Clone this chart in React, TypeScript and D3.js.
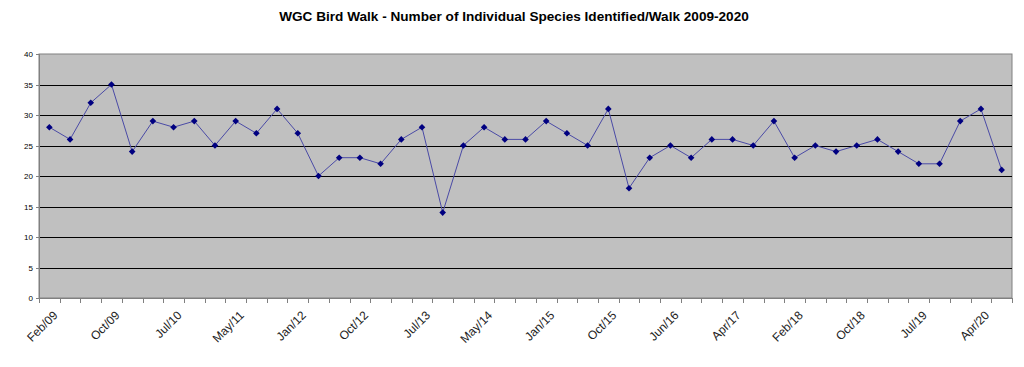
import * as d3 from "d3"
import React, { useEffect, useRef } from "react"

// walk dates (only every third one is labelled on the axis)
const walks = [
  "Feb/09", "May/09", "Jul/09", "Oct/09", "Jan/10", "Apr/10", "Jul/10", "Oct/10",
  "Jan/11", "May/11", "Aug/11", "Oct/11", "Jan/12", "Apr/12", "Jul/12", "Oct/12",
  "Jan/13", "Apr/13", "Jul/13", "Oct/13", "Jan/14", "May/14", "Jul/14", "Oct/14",
  "Jan/15", "Apr/15", "Jul/15", "Oct/15", "Jan/16", "Mar/16", "Jun/16", "Sep/16",
  "Dec/16", "Apr/17", "Jul/17", "Oct/17", "Feb/18", "May/18", "Jul/18", "Oct/18",
  "Jan/19", "Apr/19", "Jul/19", "Oct/19", "Jan/20", "Apr/20", "Jul/20",
]

const species = [
  28, 26, 32, 35, 24, 29, 28, 29, 25, 29, 27, 31, 27, 20, 23, 23,
  22, 26, 28, 14, 25, 28, 26, 26, 29, 27, 25, 31, 18, 23, 25, 23,
  26, 26, 25, 29, 23, 25, 24, 25, 26, 24, 22, 22, 29, 31, 21,
]

const yTicks = [0, 5, 10, 15, 20, 25, 30, 35, 40]

const title = "WGC Bird Walk - Number of Individual Species Identified/Walk 2009-2020"

export default function App() {
  const ref = useRef<SVGSVGElement>(null)

  useEffect(() => {
    const width = 1024
    const height = 367
    const margin = { top: 54, right: 12, bottom: 69, left: 39 }

    const svg = d3.select(ref.current)
    svg.selectAll("*").remove()
    svg.attr("width", width).attr("height", height)

    const font = "Liberation Sans, Arial, sans-serif"

    const xScale = d3.scaleBand<string>()
      .domain(walks)
      .range([margin.left, width - margin.right])
      .padding(0)

    const yScale = d3.scaleLinear()
      .domain([0, 40])
      .range([height - margin.bottom, margin.top])

    const x0 = margin.left
    const x1 = width - margin.right
    const yb = height - margin.bottom
    const cx = (d: string) => (xScale(d) as number) + xScale.bandwidth() / 2

    // title
    svg.append("text")
      .attr("x", 514)
      .attr("y", 21)
      .attr("text-anchor", "middle")
      .style("font-family", font)
      .style("font-size", "13.6px")
      .style("font-weight", "bold")
      .attr("fill", "#000")
      .text(title)

    // plot area
    svg.append("rect")
      .attr("x", x0)
      .attr("y", margin.top)
      .attr("width", x1 - x0)
      .attr("height", yb - margin.top)
      .attr("fill", "#c0c0c0")
      .attr("stroke", "#808080")
      .attr("stroke-width", 1)

    // gridlines
    svg.append("g")
      .selectAll("line")
      .data(yTicks.filter(t => t > 0 && t < 40))
      .join("line")
        .attr("x1", x0)
        .attr("x2", x1)
        .attr("y1", d => Math.round(yScale(d)) + 0.5)
        .attr("y2", d => Math.round(yScale(d)) + 0.5)
        .attr("stroke", "#000")
        .attr("stroke-width", 1)

    // y axis
    svg.append("line")
      .attr("x1", x0 + 0.5).attr("x2", x0 + 0.5)
      .attr("y1", margin.top).attr("y2", yb + 0.5)
      .attr("stroke", "#808080")

    const yAxis = svg.append("g")
    yAxis.selectAll("line")
      .data(yTicks)
      .join("line")
        .attr("x1", x0 - 3)
        .attr("x2", x0)
        .attr("y1", d => Math.round(yScale(d)) + 0.5)
        .attr("y2", d => Math.round(yScale(d)) + 0.5)
        .attr("stroke", "#808080")
    yAxis.selectAll("text")
      .data(yTicks)
      .join("text")
        .attr("x", x0 - 6)
        .attr("y", d => yScale(d) + 3)
        .attr("text-anchor", "end")
        .style("font-family", font)
        .style("font-size", "8px")
        .attr("fill", "#000")
        .text(d => d)

    // x axis
    svg.append("line")
      .attr("x1", x0).attr("x2", x1)
      .attr("y1", yb + 0.5).attr("y2", yb + 0.5)
      .attr("stroke", "#808080")

    const bounds = walks.map(d => xScale(d) as number).concat([x1])
    svg.append("g")
      .selectAll("line")
      .data(bounds)
      .join("line")
        .attr("x1", d => Math.round(d) + 0.5)
        .attr("x2", d => Math.round(d) + 0.5)
        .attr("y1", yb)
        .attr("y2", yb + 5)
        .attr("stroke", "#808080")

    svg.append("g")
      .selectAll("text")
      .data(walks.filter((d, i) => i % 3 === 0))
      .join("text")
        .attr("transform", d => "translate(" + (cx(d) + 9) + "," + (yb + 18) + ") rotate(-45)")
        .attr("text-anchor", "end")
        .style("font-family", font)
        .style("font-size", "12px")
        .attr("fill", "#222")
        .text(d => d)

    // data line
    const line = d3.line<number>()
      .x((d, i) => cx(walks[i]))
      .y(d => yScale(d))

    svg.append("path")
      .datum(species)
      .attr("fill", "none")
      .attr("stroke", "#4a4aa6")
      .attr("stroke-width", 1)
      .attr("d", line)

    // diamond markers
    const diamond = d3.symbol().type(d3.symbolDiamond2).size(28)
    svg.append("g")
      .selectAll("path")
      .data(species)
      .join("path")
        .attr("transform", (d, i) => "translate(" + cx(walks[i]) + "," + yScale(d) + ")")
        .attr("d", diamond)
        .attr("fill", "#000080")
  }, [])

  return (
    <svg ref={ref} style={{ position: "absolute", left: 0, top: 0, background: "#fff" }}></svg>
  )
}
